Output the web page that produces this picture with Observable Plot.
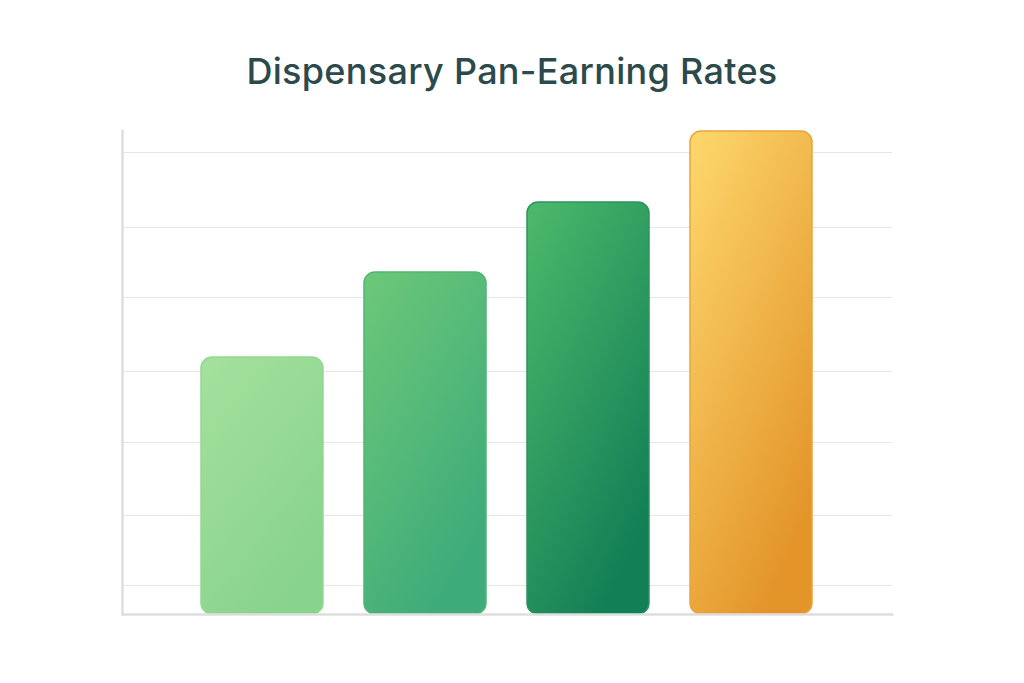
<!DOCTYPE html>
<html>
<head>
<meta charset="utf-8">
<script src="https://cdn.jsdelivr.net/npm/d3@7"></script>
<script src="https://cdn.jsdelivr.net/npm/@observablehq/plot@0.6"></script>
<style>
  html, body { margin: 0; padding: 0; background: #ffffff; }
  #wrap { width: 1024px; height: 683px; position: relative; overflow: hidden; }
  #title {
    height: 110px; line-height: 1; box-sizing: border-box; padding-top: 53px;
    text-align: center; font-family: Inter, "Noto Sans", sans-serif; font-weight: 500;
    font-size: 36px; color: #2c4a4c; letter-spacing: 0.3px;
  }
  #chart svg { display: block; }
</style>
</head>
<body>
<div id="wrap">
  <div id="title">Dispensary Pan-Earning Rates</div>
  <div id="chart"></div>
</div>
<script>
// Data (no axis labels shown)
const categories = ["Tier 1", "Tier 2", "Tier 3", "Tier 4"];
const rates = [25.7, 34.2, 41.2, 48.3];
const gridValues = [2.9, 9.9, 17.2, 24.3, 31.7, 38.7, 46.2];

// Styles (gradient top-left -> bottom-right, outline)
const gradTop = ["#a4e19d", "#6dc878", "#4dba6b", "#fed86d"];
const gradBottom = ["#88d38d", "#3dab7a", "#137f56", "#e3952a"];
const outline = ["#93d893", "#52b672", "#2a9560", "#eaa53a"];

const data = categories.map((c, i) => ({category: c, rate: rates[i], idx: i}));

const marks = [
  Plot.ruleY(gridValues, {stroke: "#e6e6e6", strokeWidth: 1.2}),
  ...data.map(d => Plot.barY([d], {
    x: "category", y: "rate", rx: 11,
    fill: `url(#grad${d.idx})`, stroke: outline[d.idx], strokeWidth: 1.5
  })),
  Plot.frame({anchor: "left", stroke: "#dedede", strokeWidth: 2.5, strokeLinecap: "round"}),
  Plot.frame({anchor: "bottom", stroke: "#dedede", strokeWidth: 2.5, strokeLinecap: "round"})
];

const plot = Plot.plot({
  width: 1024,
  height: 573,
  marginLeft: 122,
  marginRight: 132,
  marginTop: 20,
  marginBottom: 69,
  x: {domain: categories, paddingInner: 0.25, paddingOuter: 0.48, axis: null},
  y: {domain: [0, 48.4], axis: null},
  style: {background: "transparent", overflow: "visible"},
  marks
});

// gradient definitions
const ns = "http://www.w3.org/2000/svg";
const defs = document.createElementNS(ns, "defs");
gradTop.forEach((c, i) => {
  const g = document.createElementNS(ns, "linearGradient");
  g.setAttribute("id", `grad${i}`);
  g.setAttribute("x1", "0"); g.setAttribute("y1", "0");
  g.setAttribute("x2", "0.6"); g.setAttribute("y2", "1");
  const s1 = document.createElementNS(ns, "stop");
  s1.setAttribute("offset", "0"); s1.setAttribute("stop-color", c);
  const s2 = document.createElementNS(ns, "stop");
  s2.setAttribute("offset", "1"); s2.setAttribute("stop-color", gradBottom[i]);
  g.appendChild(s1); g.appendChild(s2);
  defs.appendChild(g);
});
plot.insertBefore(defs, plot.firstChild);

document.getElementById("chart").appendChild(plot);
</script>
</body>
</html>
